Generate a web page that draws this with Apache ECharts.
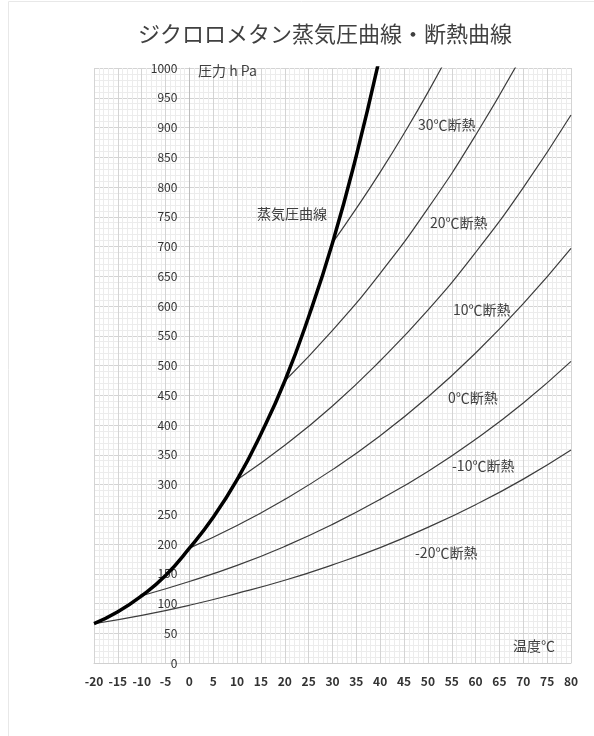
<!DOCTYPE html>
<html>
<head>
    <meta charset="utf-8">
    <title>ジクロロメタン蒸気圧曲線・断熱曲線</title>
    <script src="https://cdn.jsdelivr.net/npm/echarts@6/dist/echarts.min.js"></script>
    <style>
        body { margin: 0; background: #fff; }
    </style>
</head>
<body>
    <div id="main" style="width:594px;height:736px;"></div>
    <script type="text/javascript">
        // 蒸気圧曲線 (温度 ℃ → 圧力 hPa)
        var vaporT = [-20, -15, -10, -5, 0, 5, 10, 15, 20, 25, 30, 35, 40];
        var vaporP = [66, 86, 113, 147, 193, 245, 308, 385, 474, 582, 706, 853, 1022];

        // 断熱曲線
        var adi30T = [30, 35, 40, 45, 50, 55];
        var adi30P = [706, 764, 825, 890, 959, 1033];
        var adi20T = [20, 30, 40, 50, 60, 70];
        var adi20P = [474, 559, 655, 764, 887, 1025];
        var adi10T = [10, 20, 30, 40, 50, 60, 70, 80];
        var adi10P = [308, 366, 432, 508, 593, 690, 799, 921];
        var adi0T = [0, 10, 20, 30, 40, 50, 60, 70, 80];
        var adi0P = [193, 231, 275, 325, 382, 447, 521, 604, 697];
        var adiM10T = [-10, 0, 10, 20, 30, 40, 50, 60, 70, 80];
        var adiM10P = [113, 137, 164, 196, 233, 275, 322, 376, 437, 507];
        var adiM20T = [-20, -10, 0, 10, 20, 30, 40, 50, 60, 70, 80];
        var adiM20P = [66, 80, 97, 117, 139, 165, 194, 228, 266, 309, 358];

        var font = '"Noto Sans CJK JP", "Noto Sans", sans-serif';
        var gridLeft = 94, gridRight = 23;
        var plotW = 594 - gridLeft - gridRight;

        function pairs(xs, ys) {
            var out = [];
            for (var i = 0; i < xs.length; i++) out.push([xs[i], ys[i]]);
            return out;
        }

        function adiabat(name, xs, ys) {
            return {
                name: name,
                type: 'line',
                smooth: true,
                symbol: 'none',
                lineStyle: { color: '#3c3c3c', width: 1.2 },
                data: pairs(xs, ys)
            };
        }

        function label(text, x, y, size) {
            return {
                type: 'text',
                x: x,
                y: y,
                z: 100,
                style: {
                    text: text,
                    fill: '#404040',
                    font: (size || 14) + 'px ' + font,
                    verticalAlign: 'middle'
                }
            };
        }

        var myChart = echarts.init(document.getElementById('main'));
        var option = {
            animation: false,
            textStyle: { fontFamily: font },
            title: {
                text: 'ジクロロメタン蒸気圧曲線・断熱曲線',
                left: 133,
                top: 18,
                textStyle: { fontSize: 22, fontWeight: 'normal', color: '#404040', fontFamily: font }
            },
            grid: { left: gridLeft, right: gridRight, top: 68, bottom: 73 },
            xAxis: {
                type: 'value',
                min: -20,
                max: 80,
                interval: 5,
                axisLine: { show: true, lineStyle: { color: '#d0d0d0' } },
                axisTick: { show: false },
                axisLabel: { color: '#333', fontSize: 12, fontWeight: 'bold', margin: 12, fontFamily: font },
                splitLine: { show: true, lineStyle: { color: '#d4d4d4', width: 1 } },
                minorTick: { splitNumber: 5 },
                minorSplitLine: { show: true, lineStyle: { color: '#ececec', width: 1 } }
            },
            yAxis: {
                type: 'value',
                min: 0,
                max: 1000,
                interval: 50,
                // y 軸は x=0 の位置に置く
                offset: -plotW * 0.2,
                axisLine: { show: true, onZero: false, lineStyle: { color: '#bdbdbd' } },
                axisTick: { show: false },
                axisLabel: {
                    color: '#333', fontSize: 12, margin: 12, fontFamily: font,
                    formatter: function (v) { return String(v); }
                },
                splitLine: { show: true, lineStyle: { color: '#d4d4d4', width: 1 } },
                minorTick: { splitNumber: 5 },
                minorSplitLine: { show: true, lineStyle: { color: '#ececec', width: 1 } }
            },
            series: [
                {
                    name: '蒸気圧曲線',
                    type: 'line',
                    smooth: true,
                    symbol: 'none',
                    z: 5,
                    lineStyle: { color: '#000', width: 3.5 },
                    data: pairs(vaporT, vaporP)
                },
                adiabat('30℃断熱', adi30T, adi30P),
                adiabat('20℃断熱', adi20T, adi20P),
                adiabat('10℃断熱', adi10T, adi10P),
                adiabat('0℃断熱', adi0T, adi0P),
                adiabat('-10℃断熱', adiM10T, adiM10P),
                adiabat('-20℃断熱', adiM20T, adiM20P)
            ],
            graphic: [
                {
                    type: 'rect',
                    shape: { x: 8.5, y: 1.5, width: 620, height: 760 },
                    style: { fill: 'none', stroke: '#e8e8e8', lineWidth: 1 },
                    silent: true
                },
                label('圧力 h Pa', 198, 71),
                label('温度℃', 513, 646),
                label('蒸気圧曲線', 257, 214),
                label('30℃断熱', 418, 125),
                label('20℃断熱', 430, 223),
                label('10℃断熱', 453, 310),
                label('0℃断熱', 448, 398),
                label('-10℃断熱', 452, 466),
                label('-20℃断熱', 415, 553)
            ]
        };
        myChart.setOption(option);
    </script>
</body>
</html>
